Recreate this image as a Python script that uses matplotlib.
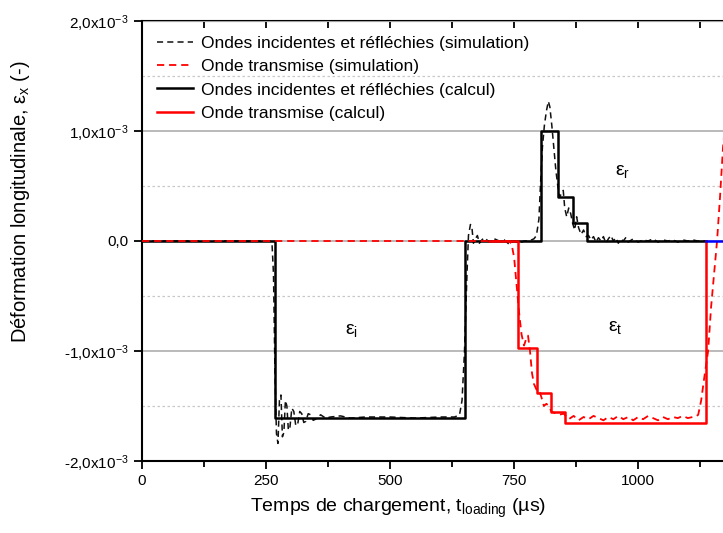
import matplotlib
matplotlib.use("Agg")
import matplotlib.pyplot as plt
from matplotlib.ticker import FixedLocator, MultipleLocator

plt.rcParams['font.family'] = ['Liberation Sans', 'DejaVu Sans']
plt.rcParams['mathtext.fontset'] = 'custom'
plt.rcParams['mathtext.rm'] = 'Liberation Sans'
plt.rcParams['mathtext.it'] = 'Liberation Sans'

SCALE = 1e-3

# incident + reflected wave, simulation (strain in 1e-3)
t_ir_sim = [0, 258, 262, 265, 268, 271, 274, 277, 280, 283, 286, 289, 292, 295, 298,
            302, 306, 310, 314, 318, 322, 326, 330, 335, 340, 345, 350, 360, 370, 380,
            400, 420, 450, 500, 550, 600, 630, 640, 645, 650, 655, 658, 662, 665, 668,
            672, 676, 680, 685, 690, 700, 710, 720, 730, 740, 750, 760, 770, 780, 790,
            795, 800, 803, 807, 811, 815, 819, 822, 826, 830, 834, 838, 842, 846, 849,
            852, 856, 860, 864, 868, 872, 876, 880, 885, 890, 895, 900, 905, 910, 915,
            920, 925, 930, 935, 940, 945, 950, 955, 960, 965, 970, 975, 980, 990, 1000,
            1010, 1020, 1030, 1040, 1050, 1060, 1070, 1080, 1090, 1100, 1110, 1120, 1130, 1140]
e_ir_sim = [0, 0, -0.02, -0.3, -1.2, -1.75, -1.84, -1.45, -1.40, -1.78, -1.74, -1.45, -1.50, -1.72, -1.70,
            -1.52, -1.55, -1.68, -1.66, -1.55, -1.57, -1.65, -1.64, -1.57, -1.58, -1.63, -1.62, -1.58, -1.61, -1.60,
            -1.59, -1.61, -1.60, -1.60, -1.61, -1.60, -1.60, -1.58, -1.45, -1.0, -0.3, 0.05, 0.15, 0.12, -0.02,
            0.02, 0.05, -0.02, 0.01, 0.03, -0.01, 0.02, 0.0, 0.01, -0.03, 0.0, -0.02, 0.0, 0.0, 0.02,
            0.05, 0.2, 0.5, 0.85, 1.05, 1.18, 1.27, 1.22, 1.05, 0.85, 0.65, 0.50, 0.40, 0.44, 0.46,
            0.30, 0.22, 0.30, 0.25, 0.16, 0.10, 0.22, 0.12, 0.06, 0.10, 0.04, 0.05, 0.01, 0.04, -0.01,
            0.03, 0.0, 0.04, -0.02, 0.02, 0.05, 0.0, 0.03, -0.02, 0.02, 0.0, 0.03, -0.01, 0.02, -0.01,
            0.01, 0.0, 0.02, -0.01, 0.01, 0.0, 0.01, -0.01, 0.01, 0.0, 0.01, 0.0, 0.0, 0.0]

# transmitted wave, simulation
t_tr_sim = [0, 740, 745, 750, 755, 760, 765, 770, 775, 778, 782, 786, 790, 795, 800,
            805, 810, 815, 820, 825, 830, 840, 850, 860, 870, 880, 890, 900, 910, 920,
            930, 940, 950, 960, 970, 980, 990, 1000, 1010, 1020, 1030, 1040, 1050, 1060,
            1070, 1080, 1090, 1100, 1110, 1115, 1121, 1127, 1133, 1141, 1147, 1153, 1159,
            1165, 1171, 1176]
e_tr_sim = [0, 0, -0.03, -0.15, -0.4, -0.65, -0.85, -0.95, -0.88, -0.86, -1.0, -1.2, -1.3, -1.35, -1.35,
            -1.42, -1.50, -1.48, -1.50, -1.55, -1.56, -1.58, -1.57, -1.62, -1.59, -1.63, -1.60, -1.62, -1.59, -1.61,
            -1.63, -1.60, -1.62, -1.59, -1.62, -1.60, -1.63, -1.60, -1.62, -1.59, -1.61, -1.63, -1.60, -1.62,
            -1.60, -1.61, -1.59, -1.61, -1.60, -1.60, -1.58, -1.45, -1.25, -1.0, -0.6, -0.3, 0.0,
            0.4, 0.85, 1.1]

# incident + reflected wave, calculation (step values, held until next time)
t_ir_calc = [0, 269, 652, 804, 839, 869, 897, 1137]
e_ir_calc = [0, -1.61, 0, 1.0, 0.40, 0.164, 0, 0]

# transmitted wave, calculation
t_tr_calc = [700, 758, 796, 824, 853, 1137, 1137]
e_tr_calc = [0, -0.97, -1.38, -1.55, -1.65, 0, 0]

t_end = [1137, 1180]
e_end = [0, 0]

ytick_vals = [-2, -1, 0, 1, 2]
ytick_labels = [r"-2,0x10$^{\mathregular{-3}}$", r"-1,0x10$^{\mathregular{-3}}$", "0,0",
                r"1,0x10$^{\mathregular{-3}}$", r"2,0x10$^{\mathregular{-3}}$"]
xtick_vals = [0, 250, 500, 750, 1000]


fig = plt.figure(figsize=(7.23, 5.33), dpi=100)
ax = fig.add_axes([142 / 723, 1 - 461 / 533, 1 - 142 / 723, 440 / 533])

sc = lambda v: [x * SCALE for x in v]

ax.plot(t_ir_sim, sc(e_ir_sim), color="#111111", linestyle=(0, (4, 2.7)), linewidth=1.1,
        label="Ondes incidentes et réfléchies (simulation)", zorder=3)
ax.plot(t_tr_sim, sc(e_tr_sim), color="red", linestyle=(0, (4, 2.7)), linewidth=1.3,
        label="Onde transmise (simulation)", zorder=4)
ax.plot(t_ir_calc, sc(e_ir_calc), color="black", drawstyle="steps-post", linewidth=1.8,
        label="Ondes incidentes et réfléchies (calcul)", zorder=3)
ax.plot(t_tr_calc, sc(e_tr_calc), color="red", drawstyle="steps-post", linewidth=1.8,
        label="Onde transmise (calcul)", zorder=4)
ax.plot(t_end, sc(e_end), color="blue", linewidth=1.8, zorder=5)

ax.set_xlim(0, 1171)
ax.set_ylim(-2 * SCALE, 2 * SCALE)

ax.yaxis.set_major_locator(FixedLocator(sc(ytick_vals)))
ax.set_yticklabels(ytick_labels, fontsize=11)
ax.yaxis.set_minor_locator(MultipleLocator(0.5 * SCALE))
ax.xaxis.set_major_locator(FixedLocator(xtick_vals))
ax.set_xticklabels([str(v) for v in xtick_vals], fontsize=11)
ax.xaxis.set_minor_locator(MultipleLocator(125))

ax.grid(axis="y", which="major", color="#b4b4b4", linewidth=1.3, linestyle="-")
ax.grid(axis="y", which="minor", color="#c8c8c8", linewidth=0.9, linestyle=(0, (2, 2)))
ax.set_axisbelow(True)

ax.tick_params(axis="y", which="major", direction="out", length=6, width=1.3)
ax.tick_params(axis="y", which="minor", length=0)
ax.tick_params(axis="x", which="major", direction="out", length=6, width=1.3)
ax.tick_params(axis="x", which="minor", direction="out", length=4, width=1.3)

top = ax.secondary_xaxis("top")
top.xaxis.set_major_locator(FixedLocator(xtick_vals))
top.xaxis.set_minor_locator(MultipleLocator(125))
top.tick_params(which="both", direction="in", length=5, width=1.3, labeltop=False)

for s in ["left", "bottom"]:
    ax.spines[s].set_linewidth(1.5)
top.spines["top"].set_linewidth(1.5)
ax.spines["top"].set_visible(False)
ax.spines["right"].set_visible(False)

ax.set_xlabel(r"Temps de chargement, t$_{\mathregular{loading}}$ (µs)", fontsize=14)
ax.xaxis.set_label_coords(0.44, -0.082)
ax.set_ylabel(r"Déformation longitudinale, ε$_{\mathregular{x}}$ (-)", fontsize=14.5)
ax.yaxis.set_label_coords(-0.19, 0.589)

ax.text(423, -0.81 * SCALE, r"ε$_{\mathregular{i}}$", fontsize=14, ha="center", va="center")
ax.text(968, 0.63 * SCALE, r"ε$_{\mathregular{r}}$", fontsize=14, ha="center", va="center")
ax.text(954, -0.79 * SCALE, r"ε$_{\mathregular{t}}$", fontsize=14, ha="center", va="center")

ax.legend(loc="upper left", frameon=False, fontsize=12.5, handlelength=2.1,
          handletextpad=0.46, labelspacing=0.47, borderaxespad=0.45)

fig.savefig("out.png", dpi=100)
